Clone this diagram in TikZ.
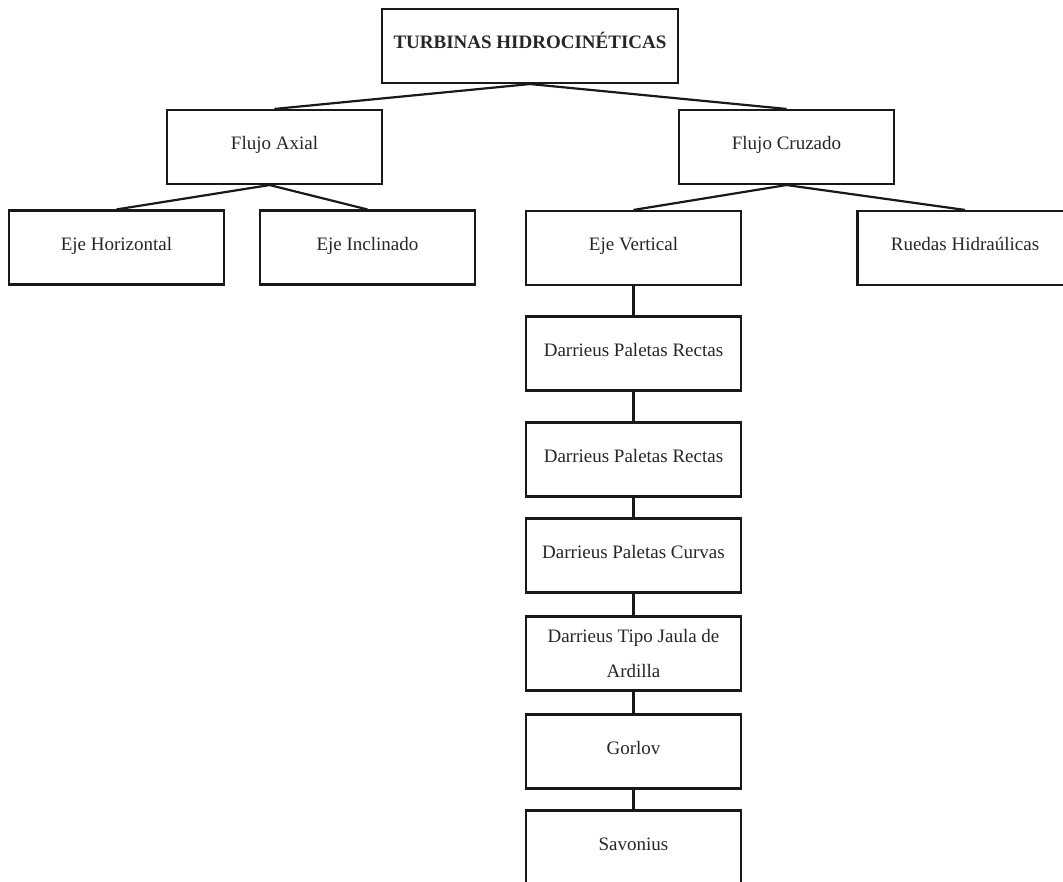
\documentclass[tikz,border=0pt]{standalone}
\usepackage{fontspec}
\setmainfont{Liberation Serif}
\begin{document}
\begin{tikzpicture}[x=1pt, y=-1pt,
  box/.style={draw=black!90, line width=2.1pt, inner sep=0pt,
    minimum width=215pt, minimum height=74pt,
    font=\fontsize{19}{35}\selectfont, text=black!85},
  oneline/.style={box, text height=14pt, text depth=8pt},
  link/.style={draw=black!90, line width=2.2pt}]
  \useasboundingbox (0,0) rectangle (1063,882);
  \clip (0,0) rectangle (1063,882);

  % top level
  \node[oneline, minimum width=296pt, font=\fontsize{19}{35}\selectfont\bfseries]
    (root) at (530,46) {TURBINAS HIDROCINÉTICAS};

  % flow types
  \node[oneline] (axial)  at (274.5,147) {Flujo Axial};
  \node[oneline] (cruz)   at (786.5,147) {Flujo Cruzado};

  % axis types
  \node[oneline] (ehor)   at (116.5,247.5) {Eje Horizontal};
  \node[oneline] (einc)   at (367.5,247.5) {Eje Inclinado};
  \node[oneline] (ever)   at (633.5,248)   {Eje Vertical};
  \node[oneline] (ruedas) at (965,248)     {Ruedas Hidraúlicas};

  % vertical-axis turbines
  \node[oneline] (dar1)   at (633.5,353.5) {Darrieus Paletas Rectas};
  \node[oneline] (dar2)   at (633.5,459.5) {Darrieus Paletas Rectas};
  \node[oneline] (darc)   at (633.5,555.5) {Darrieus Paletas Curvas};
  \node[box, align=center] (jaula) at (633.5,653.5) {Darrieus Tipo Jaula de\\Ardilla};
  \node[oneline] (gorlov) at (633.5,751.5) {Gorlov};
  \node[oneline] (savon)  at (633.5,847.5) {Savonius};

  % connectors
  \draw[link] (axial.north) -- (root.south) -- (cruz.north);
  \draw[link] (ehor.north) -- ([xshift=-5pt]axial.south) -- (einc.north);
  \draw[link] (ever.north) -- (cruz.south) -- (ruedas.north);
  \draw[link] (ever.south) -- (dar1.north);
  \draw[link] (dar1.south) -- (dar2.north);
  \draw[link] (dar2.south) -- (darc.north);
  \draw[link] (darc.south) -- (jaula.north);
  \draw[link] (jaula.south) -- (gorlov.north);
  \draw[link] (gorlov.south) -- (savon.north);
\end{tikzpicture}
\end{document}
